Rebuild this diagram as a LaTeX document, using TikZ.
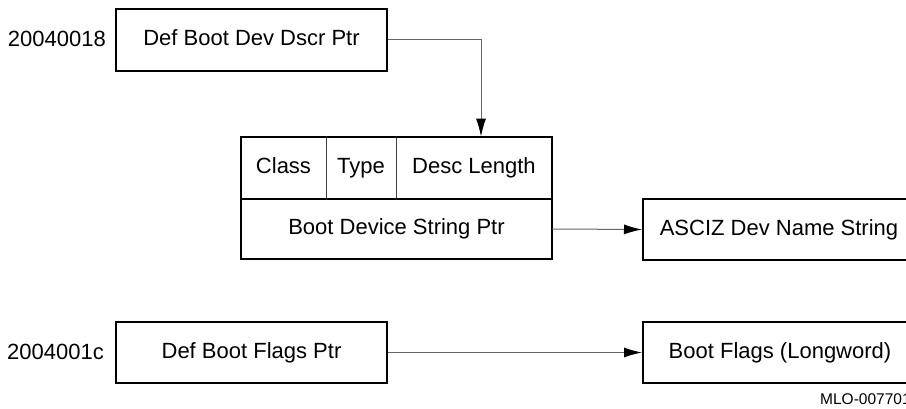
\documentclass[tikz,border=0pt]{standalone}
\usepackage{fontspec}
\setmainfont{Liberation Sans}
\usetikzlibrary{arrows.meta}
\begin{document}
\begin{tikzpicture}[x=1pt,y=-1pt,
  txt/.style={font=\fontsize{22}{24}\selectfont,text height=16pt,text depth=4.5pt},
  box/.style={draw=black,line width=2pt,inner sep=0pt,txt},
  cell/.style={draw=black!75,line width=0.9pt,inner sep=0pt,txt},
  lbl/.style={inner sep=0pt,txt},
  conn/.style={draw=black!60,line width=1pt,-{Latex[length=18pt,width=10pt,black]}}
]
\useasboundingbox (0,0) rectangle (906,409);
\clip (0,0) rectangle (906,409);
% top pointer box
\node[box,minimum width=271pt,minimum height=62pt] (dbd) at (251.5,40) {Def Boot Dev Dscr Ptr};
\node[lbl,anchor=east] (a1) at (106,41) {20040018};
% struct
\node[cell,minimum width=85pt,minimum height=62pt] (cls) at (283.5,168) {Class};
\node[cell,minimum width=70pt,minimum height=62pt] (typ) at (361,168) {Type};
\node[cell,minimum width=156pt,minimum height=62pt] (dl) at (474,168) {Desc Length};
\node[cell,minimum width=311pt,minimum height=60pt] (bds) at (396.5,229) {Boot Device String Ptr};
\draw[line width=2pt] (cls.north west) rectangle (bds.south east);
\draw[line width=2pt] (bds.north west) -- (bds.north east);
% ASCIZ box
\node[box,minimum width=272pt,minimum height=61pt] (asc) at (779,229.5) {ASCIZ Dev Name String};
% bottom row
\node[box,minimum width=271pt,minimum height=61pt] (dbf) at (251.5,352.5) {Def Boot Flags Ptr};
\node[lbl,anchor=east] (a2) at (104,354) {2004001c};
\node[box,minimum width=274pt,minimum height=61pt] (bfl) at (780,352.5) {Boot Flags (Longword)};
\node[inner sep=0pt,anchor=west,font=\fontsize{15.5}{17}\selectfont] (mlo) at (820,399) {MLO-007701};
% connectors
\coordinate (bend) at (481,40);
\draw[conn] (dbd.east) -- (bend) -- (bend |- dl.north);
\draw[conn] (bds.east) -- (asc.west);
\draw[conn] (dbf.east) -- (bfl.west);
\end{tikzpicture}
\end{document}
